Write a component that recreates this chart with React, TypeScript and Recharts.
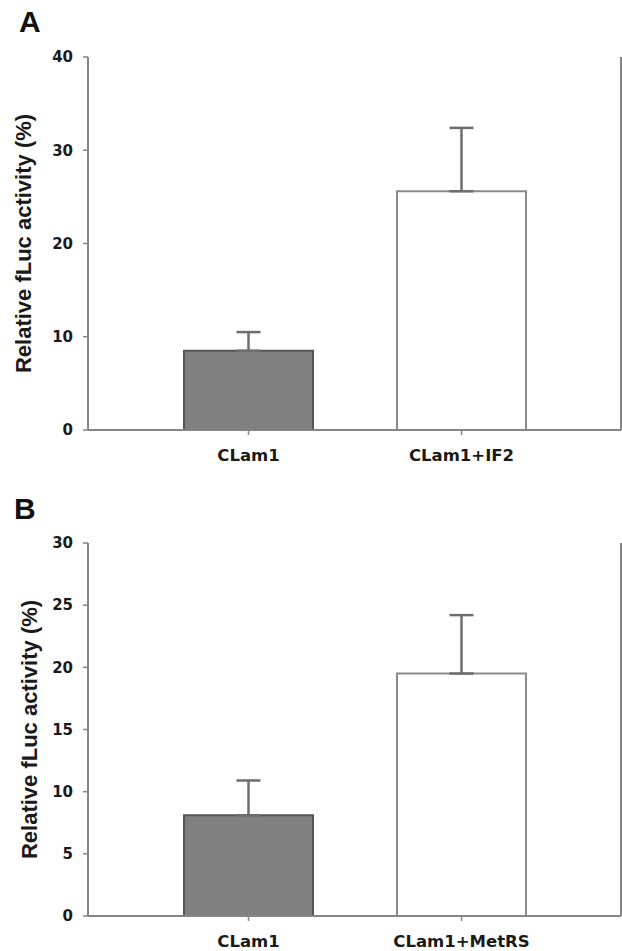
import React from 'react';
import { BarChart, Bar, XAxis, YAxis, ErrorBar, Cell } from 'recharts';

const categoriesA = ['CLam1', 'CLam1+IF2'];
const valuesA = [8.5, 25.6];
const errorsA = [2.0, 6.8];
const ticksA = [0, 10, 20, 30, 40];

const categoriesB = ['CLam1', 'CLam1+MetRS'];
const valuesB = [8.1, 19.5];
const errorsB = [2.8, 4.7];
const ticksB = [0, 5, 10, 15, 20, 25, 30];

const barFills = ['#808080', '#ffffff'];
const barStrokes = ['#555555', '#8a8a8a'];

const AXIS = '#858585';
const TICK_FONT = { fontFamily: '"DejaVu Sans", sans-serif', fontWeight: 'bold', fontSize: 15, fill: '#1a1a1a' };
const XTICK_FONT = { fontFamily: '"DejaVu Sans", sans-serif', fontWeight: 'bold', fontSize: 16.5, fill: '#1a1a1a' };

const yLabelText = 'Relative fLuc activity (%)';

function makeRows(cats: string[], vals: number[], errs: number[]) {
  return cats.map((name, i) => ({ name, value: vals[i], err: [0, errs[i]] }));
}

function Panel({
  letter, rows, ticks, maxY, height, topMargin, xAxisHeight, labelX,
}: {
  letter: string; rows: any[]; ticks: number[]; maxY: number; height: number;
  topMargin: number; xAxisHeight: number; labelX: number;
}) {
  const yLabel = (props: any) => {
    const vb = props.viewBox;
    const cy = vb.y + vb.height / 2;
    return (
      <text
        x={labelX}
        y={cy}
        transform={`rotate(-90, ${labelX}, ${cy})`}
        textAnchor="middle"
        dominantBaseline="central"
        style={{ fontFamily: '"Liberation Sans", Arial, sans-serif', fontWeight: 'bold', fontSize: 22, fill: '#1a1a1a' }}
      >
        {yLabelText}
      </text>
    );
  };
  return (
    <div style={{ position: 'relative', width: 622, height }}>
      <div
        style={{
          position: 'absolute', left: letter === 'A' ? 19 : 14, top: letter === 'A' ? 5 : 6,
          fontFamily: '"Liberation Sans", Arial, sans-serif', fontWeight: 'bold', fontSize: 30, color: '#111',
          lineHeight: '34px',
        }}
      >
        {letter}
      </div>
      <BarChart
        width={622}
        height={height}
        data={rows}
        margin={{ top: topMargin, right: 0, left: 0, bottom: 0 }}
      >
        <XAxis
          dataKey="name"
          type="category"
          height={xAxisHeight}
          padding={{ left: 54, right: 53 }}
          axisLine={{ stroke: AXIS, strokeWidth: 2 }}
          tickLine={{ stroke: AXIS, strokeWidth: 1.5 }}
          tickSize={5}
          tickMargin={14}
          tick={XTICK_FONT}
          interval={0}
        />
        <XAxis
          xAxisId="top"
          dataKey="name"
          orientation="top"
          height={0}
          tick={false}
          tickLine={false}
          axisLine={{ stroke: AXIS, strokeWidth: 2 }}
        />
        <YAxis
          type="number"
          domain={[0, maxY]}
          ticks={ticks}
          width={88}
          axisLine={{ stroke: AXIS, strokeWidth: 2 }}
          tickLine={{ stroke: AXIS, strokeWidth: 1.5 }}
          tickSize={5}
          tickMargin={10}
          tick={TICK_FONT}
          label={yLabel}
        />
        <YAxis
          yAxisId="right"
          orientation="right"
          type="number"
          domain={[0, maxY]}
          width={1}
          tick={false}
          tickLine={false}
          axisLine={{ stroke: AXIS, strokeWidth: 2 }}
        />
        <Bar dataKey="value" barSize={129} strokeWidth={2} isAnimationActive={false}>
          {rows.map((r, i) => (
            <Cell key={r.name} fill={barFills[i]} stroke={barStrokes[i]} />
          ))}
          <ErrorBar dataKey="err" width={12} stroke="#6e6e6e" strokeWidth={2.5} direction="y" />
        </Bar>
      </BarChart>
    </div>
  );
}

export default function App() {
  const rowsA = makeRows(categoriesA, valuesA, errorsA);
  const rowsB = makeRows(categoriesB, valuesB, errorsB);
  return (
    <div style={{ position: 'absolute', left: 0, top: 0, width: 622, height: 951, background: '#fff' }}>
      <div style={{ position: 'absolute', left: 0, top: 0 }}>
        <Panel letter="A" rows={rowsA} ticks={ticksA} maxY={40} height={480} topMargin={57} xAxisHeight={50} labelX={23} />
      </div>
      <div style={{ position: 'absolute', left: 0, top: 486 }}>
        <Panel letter="B" rows={rowsB} ticks={ticksB} maxY={30} height={465} topMargin={57} xAxisHeight={35} labelX={29} />
      </div>
    </div>
  );
}
